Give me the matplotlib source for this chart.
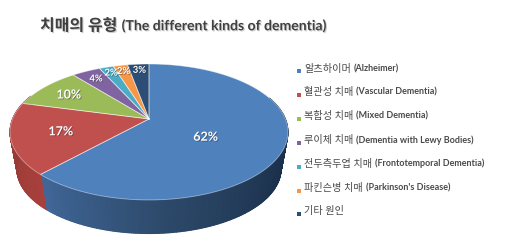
import numpy as np
import matplotlib
matplotlib.use("Agg")
import matplotlib.pyplot as plt
import matplotlib.patheffects as pe
from matplotlib.colors import LinearSegmentedColormap

plt.rcParams['font.family'] = ['Lato', 'Noto Sans CJK KR', 'DejaVu Sans']

title_ko = "치매의 유형"
title_en = "(The different kinds of dementia)"
labels_ko = ["알츠하이머", "혈관성 치매", "복합성 치매", "루이체 치매", "전두측두엽 치매", "파킨슨병 치매", "기타 원인"]
labels_en = ["(Alzheimer)", "(Vascular Dementia)", "(Mixed Dementia)", "(Dementia with Lewy Bodies)",
             "(Frontotemporal Dementia)", "(Parkinson's Disease)", ""]
values = [62, 17, 10, 4, 2, 2, 3]
colors = ["#4F81BD", "#C0504D", "#9BBB59", "#8064A2", "#4BACC6", "#F79646", "#2C4D75"]

# where each percent label sits along its radius
label_radius = [0.47, 0.65, 0.75, 0.82, 0.87, 0.87, 0.87]

# pie geometry in pixels, the tilt gives the 3d perspective
cx, cy = 149, 119
rx, ry = 136.4, 65.5
tilt = 0.191
rim_mid = 132
floor_mid = 169
floor_scale = 0.95


def project(theta, r=1.0):
    # theta in degrees, clockwise from the top of the pie
    t = np.radians(theta)
    u = r * np.sin(t)
    v = r * np.cos(t)
    d = 1 + tilt * v
    return cx + rx * u / d, cy - ry * v / d


def draw_wall(start, end, shades):
    # side of the pie, from the rim down to a slightly smaller floor ellipse
    angles = np.linspace(start, end, 200)
    xs, ys = project(angles)
    xb = cx + floor_scale * (xs - cx)
    yb = floor_mid + floor_scale * (ys - rim_mid)
    cmap = LinearSegmentedColormap.from_list("wall", shades)
    shade = np.linspace(0, 1, 200)
    ax.pcolormesh(np.vstack([xs, xb]), np.vstack([ys, yb]), np.vstack([shade, shade]),
                  shading='gouraud', cmap=cmap, zorder=1)


def two_part_text(x, y, first, second, size1, size2, color, weight1, weight2, gap, **kw):
    # korean and latin parts have different sizes, so the second one starts where the first ends
    t = ax.text(x, y, first, fontsize=size1, color=color, fontweight=weight1, ha='left', va='center', **kw)
    box = t.get_window_extent(fig.canvas.get_renderer())
    ax.text(box.x1 + gap, y, second, fontsize=size2, color=color, fontweight=weight2,
            ha='left', va='center', **kw)


fig = plt.figure(figsize=(5.16, 2.45), dpi=100)
ax = fig.add_axes([0, 0, 1, 1])
ax.set_xlim(0, 516)
ax.set_ylim(245, 0)
ax.axis('off')

stops = np.cumsum([0] + values) * 3.6

draw_wall(70, stops[1], ["#18283E", "#1C324E", "#2C4868", "#41689A"])
draw_wall(stops[1], 292, ["#A8403C", "#8E3633"])

for i, val in enumerate(values):
    angles = np.linspace(stops[i], stops[i + 1], max(int(val * 4), 4))
    xs, ys = project(angles)
    ax.fill(np.r_[cx, xs], np.r_[cy, ys], color=colors[i], lw=0, zorder=2)
    ax.plot(np.r_[cx, xs, cx], np.r_[cy, ys, cy], color="white", alpha=0.45, lw=0.6, zorder=3)

# percent labels
for i, val in enumerate(values):
    mid = (stops[i] + stops[i + 1]) / 2
    x, y = project(mid, label_radius[i])
    if i == 0:
        x, y = x - 5, y + 6
    size = 9 if val >= 10 else 6.8
    ax.text(x, y, f"{val}%", color="white", fontsize=size, fontweight='bold', ha='center', va='center', zorder=4,
            path_effects=[pe.withSimplePatchShadow(offset=(0.6, -0.6), shadow_rgbFace="#333333", alpha=0.5)])

shadow = [pe.withSimplePatchShadow(offset=(0.8, -0.8), shadow_rgbFace="#999999", alpha=0.5)]
two_part_text(40, 26, title_ko, title_en, 11.5, 10.1, "#404040", 'bold', 'bold', 4, path_effects=shadow)

# legend
for i in range(len(labels_ko)):
    y = 68.5 + i * 23.8
    ax.scatter([299], [y + 3], marker='s', s=5, color=colors[i], linewidths=0)
    two_part_text(304, y, labels_ko[i], labels_en[i], 7.3, 6.5, "#4A4A4A", 'medium', 'bold', 3)

plt.savefig("out.png", dpi=100)
plt.close()
